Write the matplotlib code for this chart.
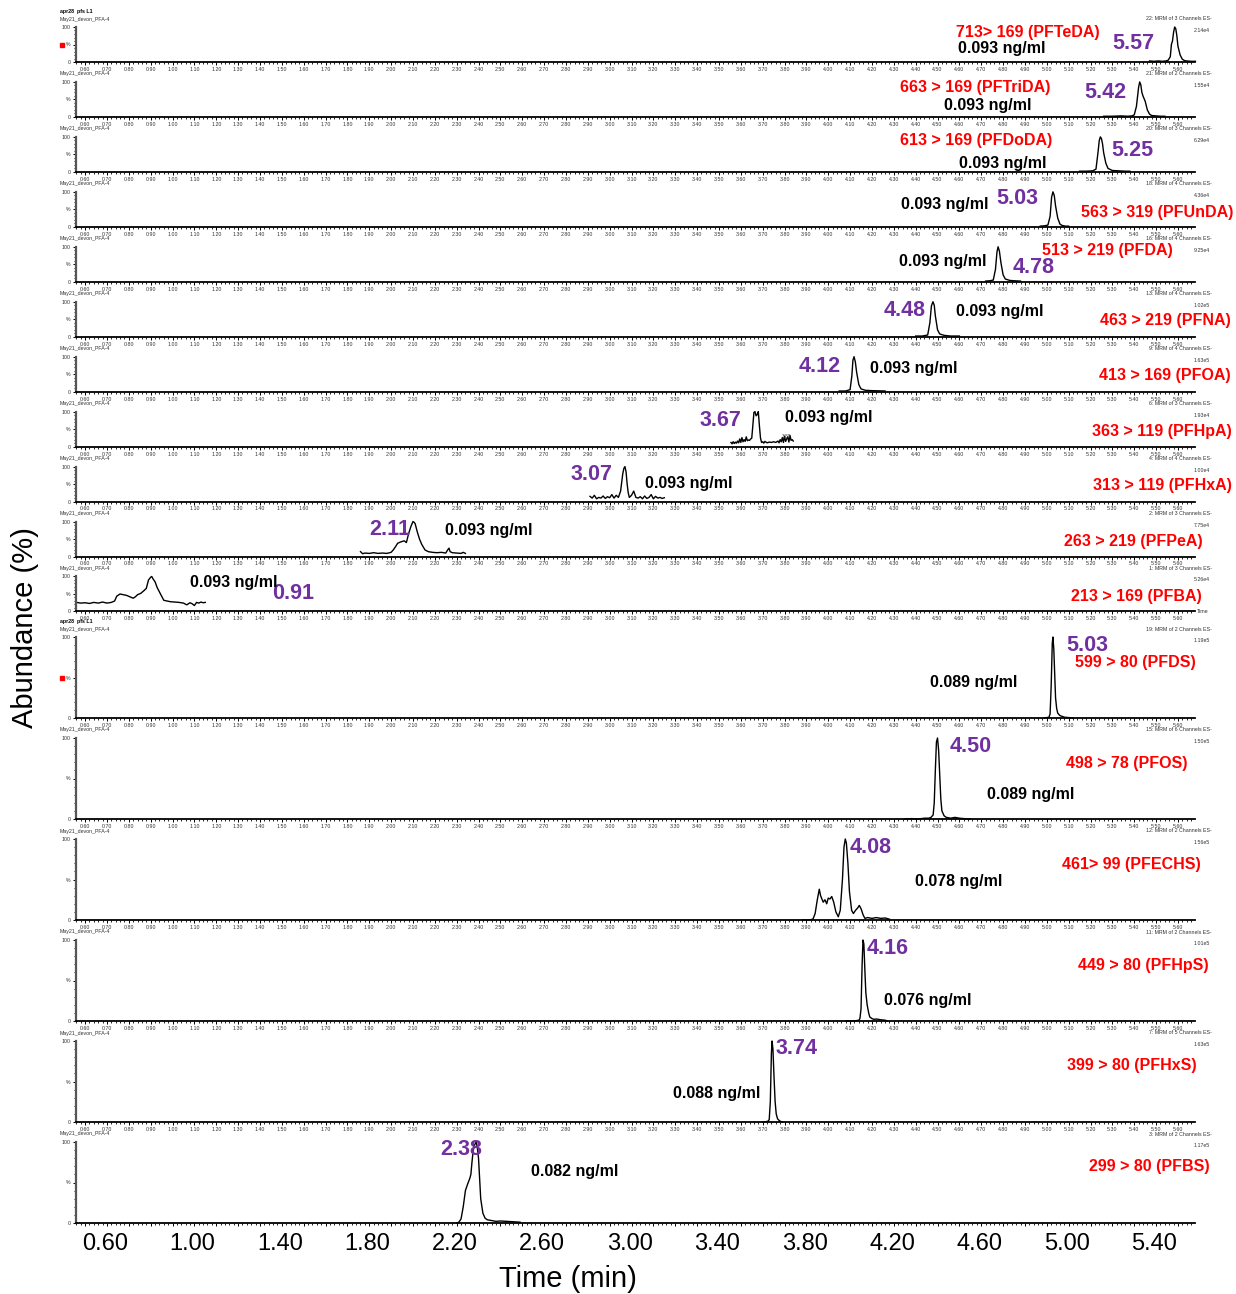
import matplotlib
matplotlib.use("Agg")
import matplotlib.pyplot as plt
from matplotlib.ticker import MultipleLocator, FixedLocator, FormatStrFormatter
import numpy as np

plt.rcParams['font.family'] = ['Liberation Sans', 'DejaVu Sans']

# ---------------- DATA ----------------
compounds = ["PFTeDA", "PFTriDA", "PFDoDA", "PFUnDA", "PFDA", "PFNA", "PFOA",
             "PFHpA", "PFHxA", "PFPeA", "PFBA",
             "PFDS", "PFOS", "PFECHS", "PFHpS", "PFHxS", "PFBS"]
transitions = ["713> 169 (PFTeDA)", "663 > 169 (PFTriDA)", "613 > 169 (PFDoDA)",
               "563 > 319 (PFUnDA)", "513 > 219 (PFDA)", "463 > 219 (PFNA)",
               "413 > 169 (PFOA)", "363 > 119 (PFHpA)", "313 > 119 (PFHxA)",
               "263 > 219 (PFPeA)", "213 > 169 (PFBA)",
               "599 > 80 (PFDS)", "498 > 78 (PFOS)", "461> 99 (PFECHS)",
               "449 > 80 (PFHpS)", "399 > 80 (PFHxS)", "299 > 80 (PFBS)"]
rt_labels = ["5.57", "5.42", "5.25", "5.03", "4.78", "4.48", "4.12", "3.67", "3.07",
             "2.11", "0.91", "5.03", "4.50", "4.08", "4.16", "3.74", "2.38"]
conc_labels = ["0.093 ng/ml"] * 11 + ["0.089 ng/ml", "0.089 ng/ml", "0.078 ng/ml",
                                      "0.076 ng/ml", "0.088 ng/ml", "0.082 ng/ml"]
channel_info = ["22: MRM of 3 Channels ES-", "21: MRM of 2 Channels ES-",
                "20: MRM of 3 Channels ES-", "18: MRM of 4 Channels ES-",
                "16: MRM of 4 Channels ES-", "13: MRM of 4 Channels ES-",
                "9: MRM of 4 Channels ES-", "6: MRM of 3 Channels ES-",
                "4: MRM of 4 Channels ES-", "2: MRM of 3 Channels ES-",
                "1: MRM of 3 Channels ES-",
                "19: MRM of 2 Channels ES-", "15: MRM of 6 Channels ES-",
                "12: MRM of 2 Channels ES-", "11: MRM of 2 Channels ES-",
                "7: MRM of 5 Channels ES-", "3: MRM of 2 Channels ES-"]
intensity_info = ["2.14e4", "1.55e4", "6.29e4", "4.36e4", "9.25e4", "1.02e5",
                  "1.63e5", "1.93e4", "1.00e4", "7.75e4", "5.26e4",
                  "1.19e5", "1.50e5", "1.56e5", "1.01e5", "1.63e5", "1.17e5"]
sample_name = "May21_devon_PFA-4"
group_title = "apr28  pfs L1"
big_ticks = [0.60, 1.00, 1.40, 1.80, 2.20, 2.60, 3.00, 3.40, 3.80, 4.20, 4.60, 5.00, 5.40]

# chromatogram traces (time in min, relative abundance in %)
t_PFTeDA = [5.47, 5.49, 5.51, 5.53, 5.545, 5.555, 5.565, 5.57, 5.575, 5.58, 5.585, 5.59,
            5.595, 5.60, 5.61, 5.62, 5.63, 5.64, 5.66, 5.68]
y_PFTeDA = [3, 2, 3, 2, 3, 5, 15, 50, 60, 85, 100, 95, 75, 45, 20, 8, 4, 3, 2, 2]

t_PFTriDA = [5.26, 5.30, 5.34, 5.37, 5.39, 5.40, 5.41, 5.42, 5.425, 5.43, 5.435, 5.44,
             5.45, 5.46, 5.47, 5.48, 5.50, 5.52, 5.54]
y_PFTriDA = [2, 2, 3, 2, 3, 6, 30, 85, 100, 92, 70, 60, 45, 20, 8, 4, 3, 2, 2]

t_PFDoDA = [5.15, 5.18, 5.21, 5.225, 5.235, 5.24, 5.245, 5.25, 5.255, 5.26, 5.27, 5.28,
            5.30, 5.33, 5.36, 5.38]
y_PFDoDA = [2, 2, 3, 8, 60, 90, 100, 95, 80, 55, 25, 10, 4, 3, 2, 2]

t_PFUnDA = [4.97, 4.99, 5.005, 5.015, 5.022, 5.028, 5.034, 5.04, 5.05, 5.06, 5.07, 5.085, 5.10]
y_PFUnDA = [2, 3, 5, 30, 85, 100, 90, 60, 25, 8, 4, 2, 2]

t_PFDA = [4.72, 4.74, 4.755, 4.765, 4.772, 4.777, 4.783, 4.79, 4.80, 4.81, 4.83, 4.85, 4.88]
y_PFDA = [2, 3, 5, 35, 85, 100, 88, 55, 20, 8, 4, 3, 2]

t_PFNA = [4.40, 4.43, 4.455, 4.465, 4.472, 4.479, 4.485, 4.49, 4.50, 4.51, 4.53, 4.56, 4.60]
y_PFNA = [2, 2, 5, 40, 88, 100, 90, 60, 20, 8, 4, 2, 2]

t_PFOA = [4.05, 4.08, 4.10, 4.108, 4.113, 4.118, 4.124, 4.13, 4.14, 4.15, 4.17, 4.20, 4.26]
y_PFOA = [2, 2, 6, 45, 90, 100, 85, 55, 20, 8, 4, 3, 2]

t_PFHpA = [3.555, 3.56, 3.565, 3.57, 3.575, 3.58, 3.585, 3.59, 3.595, 3.60, 3.605, 3.61,
           3.615, 3.62, 3.625, 3.63, 3.635, 3.64, 3.645, 3.65, 3.655, 3.66, 3.665, 3.67,
           3.675, 3.68, 3.685, 3.69, 3.695, 3.70, 3.705, 3.71, 3.72, 3.73, 3.74, 3.75,
           3.76, 3.77, 3.775, 3.78, 3.785, 3.79, 3.795, 3.80, 3.805, 3.81, 3.815, 3.82,
           3.825, 3.83, 3.835, 3.84]
y_PFHpA = [12, 8, 14, 9, 13, 10, 16, 11, 22, 12, 26, 14, 20, 15, 28, 17, 19, 18, 22, 24,
           60, 98, 100, 88, 92, 100, 60, 25, 12, 14, 10, 15, 11, 13, 12, 14, 12, 16, 11,
           20, 14, 26, 12, 30, 15, 22, 28, 13, 32, 18, 20, 16]

t_PFHxA = [2.91, 2.92, 2.93, 2.94, 2.95, 2.96, 2.97, 2.98, 2.99, 3.00, 3.01, 3.02, 3.03,
           3.04, 3.05, 3.055, 3.06, 3.065, 3.07, 3.075, 3.08, 3.085, 3.09, 3.10, 3.11,
           3.12, 3.13, 3.14, 3.15, 3.16, 3.17, 3.18, 3.19, 3.20, 3.21, 3.22, 3.23, 3.24, 3.25]
y_PFHxA = [15, 10, 18, 8, 12, 10, 16, 9, 14, 11, 20, 10, 18, 12, 30, 55, 80, 95, 100, 85,
           50, 25, 12, 18, 30, 12, 10, 14, 8, 16, 9, 12, 20, 8, 15, 10, 12, 9, 11]

t_PFPeA = [1.86, 1.87, 1.88, 1.90, 1.92, 1.94, 1.96, 1.98, 2.00, 2.01, 2.02, 2.03, 2.045,
           2.06, 2.07, 2.08, 2.09, 2.10, 2.105, 2.11, 2.12, 2.13, 2.14, 2.155, 2.17, 2.19,
           2.21, 2.23, 2.25, 2.26, 2.265, 2.27, 2.28, 2.30, 2.32, 2.33, 2.34]
y_PFPeA = [14, 8, 10, 9, 11, 9, 10, 9, 12, 19, 28, 38, 42, 45, 40, 65, 85, 100, 98, 94,
           70, 50, 35, 19, 14, 12, 11, 12, 10, 20, 24, 14, 11, 10, 9, 12, 9]

t_PFBA = [0.56, 0.58, 0.60, 0.62, 0.64, 0.66, 0.68, 0.70, 0.72, 0.735, 0.745, 0.76, 0.775,
          0.79, 0.805, 0.82, 0.83, 0.84, 0.855, 0.87, 0.88, 0.89, 0.90, 0.905, 0.91, 0.92,
          0.93, 0.945, 0.96, 0.975, 0.99, 1.01, 1.03, 1.05, 1.065, 1.08, 1.09, 1.10, 1.11,
          1.12, 1.13, 1.14, 1.15]
y_PFBA = [26, 24, 25, 23, 26, 24, 27, 24, 26, 30, 44, 50, 48, 46, 42, 38, 42, 48, 52, 60,
          66, 90, 98, 100, 94, 85, 68, 50, 32, 30, 28, 27, 26, 24, 19, 25, 22, 17, 26, 24,
          27, 25, 26]

t_PFDS = [4.99, 5.00, 5.01, 5.015, 5.02, 5.025, 5.028, 5.032, 5.036, 5.04, 5.045, 5.05,
          5.06, 5.07, 5.08, 5.10, 5.12]
y_PFDS = [0, 0.5, 1, 5, 40, 92, 100, 85, 55, 25, 12, 6, 3, 2, 1, 0.5, 0]

t_PFOS = [4.35, 4.38, 4.41, 4.44, 4.46, 4.47, 4.48, 4.485, 4.49, 4.495, 4.50, 4.505, 4.51,
          4.515, 4.52, 4.53, 4.54, 4.56, 4.58, 4.60, 4.62, 4.65]
y_PFOS = [0, 0.5, 0, 1, 1, 2, 5, 20, 60, 95, 100, 85, 55, 25, 10, 4, 2, 1, 2, 1, 0.5, 0]

t_PFECHS = [3.88, 3.91, 3.93, 3.94, 3.95, 3.959, 3.965, 3.977, 3.985, 3.993, 4.00, 4.008,
            4.016, 4.025, 4.035, 4.046, 4.055, 4.065, 4.072, 4.078, 4.083, 4.09, 4.097,
            4.107, 4.115, 4.125, 4.135, 4.142, 4.15, 4.16, 4.168, 4.18, 4.20, 4.22, 4.24,
            4.26, 4.28]
y_PFECHS = [0, 0, 1, 8, 25, 38, 30, 22, 25, 20, 27, 26, 29, 22, 10, 4, 12, 50, 90, 100, 95,
            70, 35, 12, 8, 12, 15, 18, 14, 6, 2, 3, 2, 3, 2, 2.5, 1]

t_PFHpS = [4.08, 4.11, 4.13, 4.14, 4.145, 4.15, 4.155, 4.159, 4.163, 4.168, 4.172, 4.178,
           4.185, 4.19, 4.20, 4.21, 4.22, 4.24, 4.26, 4.27]
y_PFHpS = [0, 0, 0.5, 1, 3, 15, 70, 100, 95, 60, 35, 20, 10, 5, 3, 2, 2.5, 1.5, 1, 0]

t_PFHxS = [3.70, 3.715, 3.725, 3.73, 3.735, 3.74, 3.743, 3.747, 3.752, 3.757, 3.762, 3.768,
           3.775, 3.78, 3.79]
y_PFHxS = [0, 0.5, 1, 3, 25, 85, 100, 90, 55, 25, 10, 4, 2, 1, 0]

t_PFBS = [2.30, 2.31, 2.32, 2.33, 2.34, 2.35, 2.36, 2.365, 2.37, 2.375, 2.38, 2.385, 2.39,
          2.395, 2.40, 2.405, 2.41, 2.42, 2.43, 2.44, 2.46, 2.48, 2.50, 2.53, 2.56, 2.59]
y_PFBS = [0, 1, 5, 20, 40, 48, 55, 60, 75, 88, 95, 98, 100, 92, 80, 55, 30, 12, 6, 4, 3, 2,
          2.5, 2, 1.5, 1]

traces = [(t_PFTeDA, y_PFTeDA), (t_PFTriDA, y_PFTriDA), (t_PFDoDA, y_PFDoDA),
          (t_PFUnDA, y_PFUnDA), (t_PFDA, y_PFDA), (t_PFNA, y_PFNA), (t_PFOA, y_PFOA),
          (t_PFHpA, y_PFHpA), (t_PFHxA, y_PFHxA), (t_PFPeA, y_PFPeA), (t_PFBA, y_PFBA),
          (t_PFDS, y_PFDS), (t_PFOS, y_PFOS), (t_PFECHS, y_PFECHS), (t_PFHpS, y_PFHpS),
          (t_PFHxS, y_PFHxS), (t_PFBS, y_PFBS)]

# ---------------- LAYOUT (label anchors in panel data coords) ----------------
trans_pos = [(4.914, 83), (4.671, 83), (4.676, 91), (5.504, 42), (5.275, 88), (5.541, 45),
             (5.541, 45), (5.527, 42), (5.527, 45), (5.394, 44), (5.412, 44),
             (5.403, 68), (5.367, 69), (5.385, 69), (5.44, 69), (5.39, 70), (5.467, 70)]
rt_pos = [(5.394, 54), (5.266, 71), (5.39, 60), (4.863, 80), (4.941, 42), (4.351, 74),
          (3.962, 73), (3.505, 76), (2.919, 76), (1.995, 76), (1.551, 50),
          (5.184, 89), (4.653, 90), (4.196, 90), (4.273, 90), (3.853, 91), (2.32, 91)]
conc_pos = [(4.795, 40), (4.731, 34), (4.80, 23), (4.534, 65), (4.525, 59), (4.786, 71),
            (4.392, 65), (4.004, 82), (3.363, 53), (2.448, 73), (1.282, 84),
            (4.667, 44), (4.927, 30), (4.598, 48), (4.456, 25), (3.491, 35), (2.841, 64)]

W, H = 1236, 1294
fig = plt.figure(figsize=(W / 100, H / 100), dpi=100)

x_left_px, x_right_px = 75.7, 1195.0
left = x_left_px / W
width = (x_right_px - x_left_px) / W
panel_px = [(62 + 54.95 * i, 35.0) for i in range(11)] + [(718 + 101 * j, 81.0) for j in range(6)]
XLIM = (0.557, 5.678)
P = 0.72  # points per pixel at 100 dpi

RED = '#FF0000'
PURPLE = '#7030A0'
TICKC = '#333333'
small = 3.8

axes = []
for k, (yb, hpx) in enumerate(panel_px):
    ax = fig.add_axes([left, 1 - yb / H, width, hpx / H])
    axes.append(ax)
    t, y = traces[k]
    ax.plot(t, y, color='black', lw=1.0, clip_on=False)
    ax.set_xlim(*XLIM)
    ax.set_ylim(0, 100)
    ax.patch.set_alpha(0)
    for s in ['top', 'right']:
        ax.spines[s].set_visible(False)
    ax.spines['left'].set_color('#555555')
    ax.spines['left'].set_linewidth(1.6)
    ax.spines['bottom'].set_color('black')
    ax.spines['bottom'].set_linewidth(1.3)
    ax.xaxis.set_major_locator(FixedLocator(np.round(np.arange(0.6, 5.605, 0.1), 2)))
    ax.xaxis.set_major_formatter(FormatStrFormatter('%.2f'))
    ax.xaxis.set_minor_locator(MultipleLocator(0.02))
    ax.yaxis.set_major_locator(FixedLocator([0, 50, 100]))
    ax.set_yticklabels(['0', '%', '100'])
    ax.yaxis.set_minor_locator(MultipleLocator(10))
    ax.tick_params(axis='both', which='major', labelsize=small, length=2.5, width=0.7,
                   pad=1, colors='black', labelcolor=TICKC)
    ax.tick_params(axis='both', which='minor', length=1.6, width=0.6, colors='black')
    if k == len(panel_px) - 1:
        ax.tick_params(axis='x', which='both', labelbottom=False)

    # header texts
    ax.annotate(sample_name, xy=(0, 1), xycoords='axes fraction',
                xytext=(-15.7 * P, 8 * P), textcoords='offset points',
                ha='left', va='center', fontsize=small, color=TICKC)
    ax.annotate(channel_info[k], xy=(1, 1), xycoords='axes fraction',
                xytext=(17 * P, 8 * P), textcoords='offset points',
                ha='right', va='center', fontsize=small, color=TICKC)
    ax.annotate(intensity_info[k], xy=(1, 1), xycoords='axes fraction',
                xytext=(15 * P, -3.5 * P), textcoords='offset points',
                ha='right', va='center', fontsize=small, color=TICKC)
    if k in (0, 11):
        ax.annotate(group_title, xy=(0, 1), xycoords='axes fraction',
                    xytext=(-15.7 * P, 15.5 * P), textcoords='offset points',
                    ha='left', va='center', fontsize=small, color='black',
                    fontweight='bold')
        ax.plot([-0.0125], [0.5], 's', transform=ax.transAxes, color=RED,
                ms=3.2, clip_on=False)
    if k == 10:
        ax.annotate('Time', xy=(1, 0), xycoords='axes fraction',
                    xytext=(2 * P, 0), textcoords='offset points',
                    ha='left', va='center', fontsize=small, color=TICKC)

    # annotations
    ax.text(*trans_pos[k], transitions[k], color=RED, fontsize=11.5, fontweight='bold',
            ha='center', va='center', clip_on=False)
    ax.text(*rt_pos[k], rt_labels[k], color=PURPLE, fontsize=15.5, fontweight='bold',
            ha='center', va='center', clip_on=False)
    ax.text(*conc_pos[k], conc_labels[k], color='black', fontsize=11.5, fontweight='bold',
            ha='center', va='center', clip_on=False)

# tiny retention label inside the PFHpA trace
axes[7].text(3.811, 28, '3.80', fontsize=3.4, color=TICKC, ha='center', va='center')

# big time axis labels (overlay on the last panel)
axb = fig.add_axes(axes[-1].get_position())
axb.set_xlim(XLIM[0] - 0.0915, XLIM[1] - 0.0915)
axb.set_ylim(0, 1)
axb.patch.set_alpha(0)
for s in axb.spines.values():
    s.set_visible(False)
axb.set_yticks([])
axb.set_xticks(big_ticks)
axb.set_xticklabels([f'{v:.2f}' for v in big_ticks])
axb.tick_params(axis='x', length=0, labelsize=17, pad=7.5)

fig.text(568 / W, 1 - 1279 / H, 'Time (min)', ha='center', va='center', fontsize=21)
fig.text(25 / W, 1 - 628 / H, 'Abundance (%)', ha='center', va='center', fontsize=21,
         rotation=90)

fig.savefig('out.png', dpi=100)
